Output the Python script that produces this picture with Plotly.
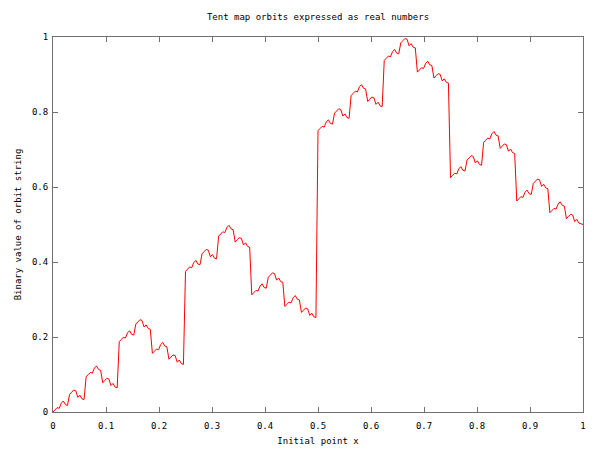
import numpy as np
import plotly.graph_objects as go

# sample positions of the initial point x (257 evenly spaced points on [0, 1])
x_points = np.linspace(0.0, 1.0, 257)

# binary value of the orbit string at each sample
orbit_value = [
    0.0000, 0.0059, 0.0117, 0.0098, 0.0234, 0.0293, 0.0195, 0.0176,
    0.0469, 0.0527, 0.0586, 0.0566, 0.0391, 0.0449, 0.0352, 0.0332,
    0.0938, 0.0996, 0.1055, 0.1035, 0.1172, 0.1230, 0.1133, 0.1113,
    0.0781, 0.0840, 0.0898, 0.0879, 0.0703, 0.0762, 0.0664, 0.0645,
    0.1875, 0.1934, 0.1992, 0.1973, 0.2109, 0.2168, 0.2070, 0.2051,
    0.2344, 0.2402, 0.2461, 0.2441, 0.2266, 0.2324, 0.2227, 0.2207,
    0.1563, 0.1621, 0.1680, 0.1660, 0.1797, 0.1855, 0.1758, 0.1738,
    0.1406, 0.1465, 0.1523, 0.1504, 0.1328, 0.1387, 0.1289, 0.1270,
    0.3750, 0.3809, 0.3867, 0.3848, 0.3984, 0.4043, 0.3945, 0.3926,
    0.4219, 0.4277, 0.4336, 0.4316, 0.4141, 0.4199, 0.4102, 0.4082,
    0.4688, 0.4746, 0.4805, 0.4785, 0.4922, 0.4980, 0.4883, 0.4863,
    0.4531, 0.4590, 0.4648, 0.4629, 0.4453, 0.4512, 0.4414, 0.4395,
    0.3125, 0.3184, 0.3242, 0.3223, 0.3359, 0.3418, 0.3320, 0.3301,
    0.3594, 0.3652, 0.3711, 0.3691, 0.3516, 0.3574, 0.3477, 0.3457,
    0.2813, 0.2871, 0.2930, 0.2910, 0.3047, 0.3105, 0.3008, 0.2988,
    0.2656, 0.2715, 0.2773, 0.2754, 0.2578, 0.2637, 0.2539, 0.2520,
    0.7500, 0.7559, 0.7617, 0.7598, 0.7734, 0.7793, 0.7695, 0.7676,
    0.7969, 0.8027, 0.8086, 0.8066, 0.7891, 0.7949, 0.7852, 0.7832,
    0.8438, 0.8496, 0.8555, 0.8535, 0.8672, 0.8730, 0.8633, 0.8613,
    0.8281, 0.8340, 0.8398, 0.8379, 0.8203, 0.8262, 0.8164, 0.8145,
    0.9375, 0.9434, 0.9492, 0.9473, 0.9609, 0.9668, 0.9570, 0.9551,
    0.9844, 0.9902, 0.9961, 0.9941, 0.9766, 0.9824, 0.9727, 0.9707,
    0.9063, 0.9121, 0.9180, 0.9160, 0.9297, 0.9355, 0.9258, 0.9238,
    0.8906, 0.8965, 0.9023, 0.9004, 0.8828, 0.8887, 0.8789, 0.8770,
    0.6250, 0.6309, 0.6367, 0.6348, 0.6484, 0.6543, 0.6445, 0.6426,
    0.6719, 0.6777, 0.6836, 0.6816, 0.6641, 0.6699, 0.6602, 0.6582,
    0.7188, 0.7246, 0.7305, 0.7285, 0.7422, 0.7480, 0.7383, 0.7363,
    0.7031, 0.7090, 0.7148, 0.7129, 0.6953, 0.7012, 0.6914, 0.6895,
    0.5625, 0.5684, 0.5742, 0.5723, 0.5859, 0.5918, 0.5820, 0.5801,
    0.6094, 0.6152, 0.6211, 0.6191, 0.6016, 0.6074, 0.5977, 0.5957,
    0.5313, 0.5371, 0.5430, 0.5410, 0.5547, 0.5605, 0.5508, 0.5488,
    0.5156, 0.5215, 0.5273, 0.5254, 0.5078, 0.5137, 0.5039, 0.5020,
    0.5000,
]

x_ticks = [0, 0.1, 0.2, 0.3, 0.4, 0.5, 0.6, 0.7, 0.8, 0.9, 1]
x_tick_text = ["0", "0.1", "0.2", "0.3", "0.4", "0.5", "0.6", "0.7", "0.8", "0.9", "1"]
y_ticks = [0, 0.2, 0.4, 0.6, 0.8, 1]
y_tick_text = ["0", "0.2", "0.4", "0.6", "0.8", "1"]

FONT = "DejaVu Sans Mono"
FS = 9

fig = go.Figure()
fig.add_trace(go.Scatter(
    x=x_points, y=orbit_value, mode="lines",
    line=dict(color="#ff0000", width=1),
    showlegend=False,
))

axis_common = dict(
    showline=True, linecolor="#707070", linewidth=1, mirror="ticks",
    ticks="inside", ticklen=5, tickcolor="#707070", tickwidth=1,
    showgrid=False, zeroline=False, automargin=False,
    tickfont=dict(family=FONT, size=FS, color="#000000"),
)

fig.update_layout(
    width=592, height=442,
    margin=dict(l=45, r=17, t=29, b=38),
    paper_bgcolor="white", plot_bgcolor="white",
    title=dict(text="Tent map orbits expressed as real numbers",
               x=0.5, xref="paper", xanchor="center",
               y=1 - 9 / 442, yref="container", yanchor="middle",
               font=dict(family=FONT, size=FS, color="#000000")),
    xaxis=dict(range=[0, 1], tickvals=x_ticks, ticktext=x_tick_text,
               ticklabelstandoff=5,
               title=dict(text="Initial point x", standoff=7,
                          font=dict(family=FONT, size=FS, color="#000000")),
               **axis_common),
    yaxis=dict(range=[0, 1], tickvals=y_ticks, ticktext=y_tick_text,
               ticklabelstandoff=2,
               title=dict(text="Binary value of orbit string", standoff=8,
                          font=dict(family=FONT, size=FS, color="#000000")),
               **axis_common),
)

fig.write_html("out.html")
